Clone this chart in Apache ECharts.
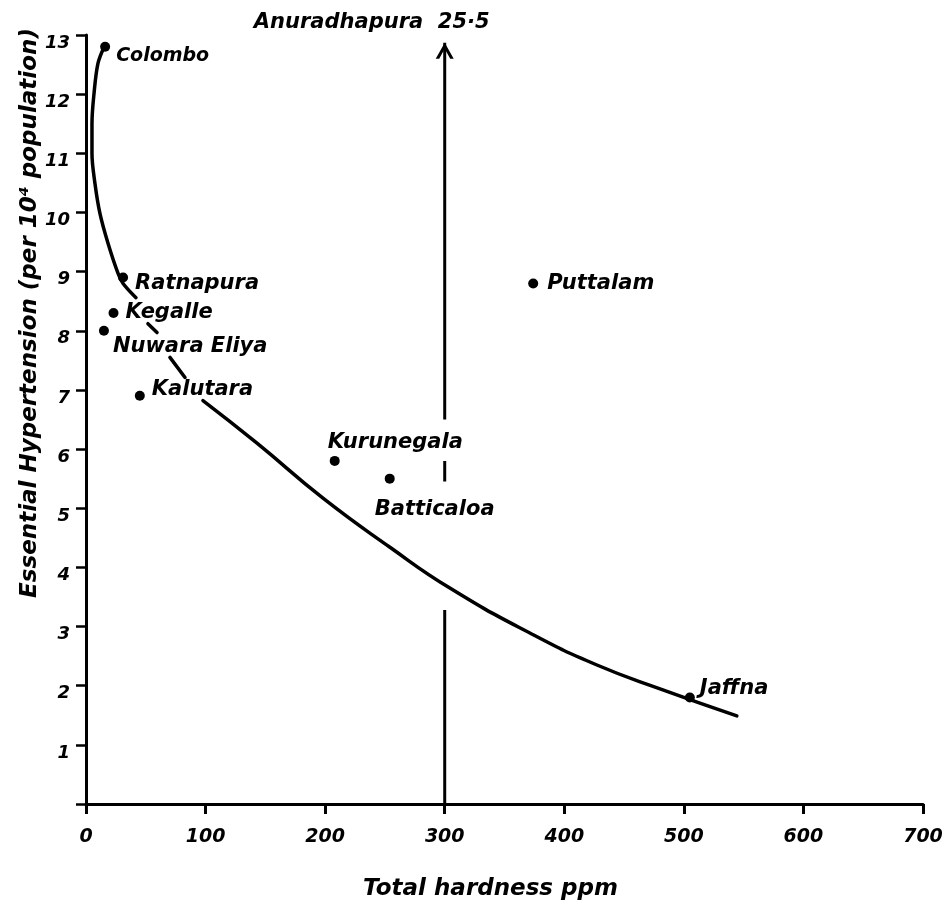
<!DOCTYPE html>
<html><head><meta charset="utf-8">
<script src="https://cdn.jsdelivr.net/npm/echarts@6/dist/echarts.min.js"></script>
<style>html,body{margin:0;padding:0;background:#fff}#c{width:952px;height:905px}</style>
</head><body><div id="c"></div>
<script>
// ---- data ----
const districts = ['Colombo','Ratnapura','Kegalle','Nuwara Eliya','Kalutara','Kurunegala','Batticaloa','Puttalam','Jaffna'];
const hardness = [16, 31, 23, 15, 45, 208, 254, 374, 505];
const hypertension = [12.8, 8.9, 8.3, 8.0, 6.9, 5.8, 5.5, 8.8, 1.8];

const outlierName = 'Anuradhapura';
const outlierHardness = 300;
const outlierValueText = '25·5';
// visible pieces of the broken vertical arrow (y ranges at x = 300), last one ends in the arrow head
const arrowPieces = [[0, 3.28], [5.45, 5.8], [6.5, 12.87]];

// hand-drawn fitted curve, broken where it passes under labels
const curveUpper = [[15,12.79],[10,12.52],[6.7,12.01],[5,11.5],[5,11.0],[7.5,10.49],[11.7,9.98],[18.4,9.48],[26.8,8.97],[31,8.8],[41.8,8.56]];
const curveMid1 = [[51.8,8.12],[59.4,7.97]];
const curveMid2 = [[70.2,7.55],[82.8,7.21]];
const curveLower = [[97.8,6.82],[143,6.1],[198.2,5.17],[254.2,4.34],[304.3,3.65],[371.2,2.89],[427.3,2.35],[482.4,1.93],[544.3,1.49]];

const xTicks = [0, 100, 200, 300, 400, 500, 600, 700];
const yTicks = [1, 2, 3, 4, 5, 6, 7, 8, 9, 10, 11, 12, 13];

const xTitle = 'Total hardness ppm';
const yTitle = 'Essential Hypertension (per 10⁴ population)';

// ---- styling ----
const FONT = 'DejaVu Sans';
const INK = '#000';
const labelOffset = {
  'Colombo': [6, 9], 'Ratnapura': [7, 6], 'Kegalle': [7, 0], 'Nuwara Eliya': [4, 16],
  'Kalutara': [7, -6], 'Kurunegala': [-12, -18], 'Batticaloa': [-20, 31],
  'Puttalam': [9, 0], 'Jaffna': [5, -9]
};
const labelSize = {'Colombo': 19};
const textStyle = {fontFamily: FONT, fontStyle: 'italic', fontWeight: 'bold', color: INK};

function curveSeries(d, s) {
  return {type: 'line', data: d, smooth: s, symbol: 'none', silent: true,
    lineStyle: {color: INK, width: 3.5, cap: 'round', join: 'round'}, z: 3};
}

const arrowHead = 'path://M0,16 L9,0 L18,16 L14.5,16 L9,6 L3.5,16 Z';
const arrowSeries = arrowPieces.map((p, i) => {
  const last = i === arrowPieces.length - 1;
  return {
    type: 'line', silent: true, z: 4,
    lineStyle: {color: INK, width: 3},
    symbol: 'none',
    data: [
      [outlierHardness, p[0]],
      last ? {value: [outlierHardness, p[1]], symbol: arrowHead, symbolSize: [18, 16],
              symbolOffset: [0, 8], itemStyle: {color: INK, opacity: 1}} : [outlierHardness, p[1]]
    ]
  };
});

const chart = echarts.init(document.getElementById('c'), null, {renderer: 'canvas'});
chart.setOption({
  backgroundColor: '#fff',
  animation: false,
  grid: {left: 86, right: 29, top: 35, bottom: 101, containLabel: false, outerBoundsMode: 'none'},
  xAxis: {
    type: 'value', min: xTicks[0], max: xTicks[xTicks.length - 1], interval: 100,
    name: xTitle, nameLocation: 'middle', nameGap: 74,
    nameTextStyle: Object.assign({fontSize: 23, padding: [0, 28, 0, 0]}, textStyle),
    axisLine: {lineStyle: {color: INK, width: 3}},
    axisTick: {show: true, length: 10, lineStyle: {color: INK, width: 3}},
    axisLabel: Object.assign({fontSize: 19, margin: 24}, textStyle),
    splitLine: {show: false}
  },
  yAxis: {
    type: 'value', min: 0, max: yTicks[yTicks.length - 1], interval: 1,
    axisLine: {show: true, lineStyle: {color: INK, width: 3}},
    axisTick: {show: true, length: 10, lineStyle: {color: INK, width: 2.5}},
    axisLabel: Object.assign({fontSize: 18, margin: 16, verticalAlign: 'top', lineHeight: 16,
      formatter: v => (yTicks.indexOf(v) >= 0 ? String(v) : '')}, textStyle),
    splitLine: {show: false}
  },
  graphic: [{
    type: 'text', x: 30, y: 313, rotation: Math.PI / 2,
    style: {text: yTitle, fill: INK, font: 'italic bold 23px "' + FONT + '"',
            align: 'center', verticalAlign: 'middle'}
  }],
  series: [
    curveSeries(curveUpper, 0.35), curveSeries(curveMid1, 0), curveSeries(curveMid2, 0), curveSeries(curveLower, 0.5),
    ...arrowSeries,
    {
      type: 'scatter', z: 5, symbolSize: 0, silent: true,
      itemStyle: {opacity: 1},
      data: [{name: outlierName, value: [outlierHardness, arrowPieces[arrowPieces.length - 1][1]]}],
      label: Object.assign({show: true, position: 'top', distance: 10, offset: [-73, 0], fontSize: 21,
        formatter: outlierName + '  ' + outlierValueText}, textStyle)
    },
    {
      type: 'scatter', z: 6, symbol: 'circle', symbolSize: 10, silent: true,
      itemStyle: {color: INK, opacity: 1},
      data: districts.map((n, i) => ({name: n, value: [hardness[i], hypertension[i]],
        label: {offset: labelOffset[n], fontSize: labelSize[n] || 21}})),
      label: Object.assign({show: true, position: 'right', distance: 0, fontSize: 21,
        formatter: p => p.name}, textStyle)
    }
  ]
});
</script></body></html>
